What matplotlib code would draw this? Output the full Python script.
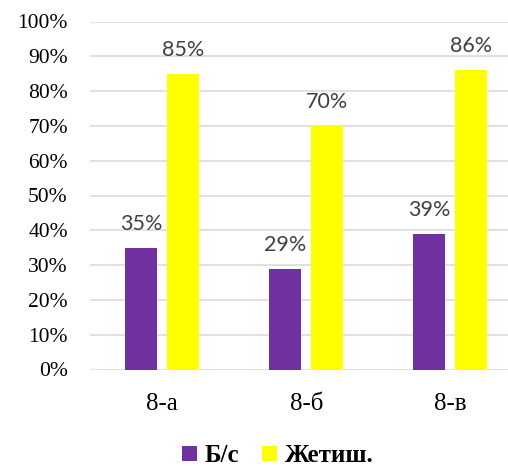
import numpy as np
import matplotlib.pyplot as plt

# chart data
classes = ["8-а", "8-б", "8-в"]
series_names = ["Б/с", "Жетиш."]
bs_values = [35, 29, 39]
zhetish_values = [85, 70, 86]
y_ticks = list(range(0, 101, 10))

colors = ["#7030A0", "#FFFF00"]

fig = plt.figure(figsize=(5.08, 4.68), dpi=100)
ax = fig.add_axes([90 / 508, 1 - 369.5 / 468, 1 - 90 / 508, (369.5 - 21.5) / 468])

x = np.arange(len(classes))
width = 0.222
offset = 0.145

bars = []
for vals, off, col, name in zip([bs_values, zhetish_values], [-offset, offset], colors, series_names):
    rects = ax.bar(x + off, vals, width, color=col, label=name, zorder=3)
    bars.append(rects)
    for r, v in zip(rects, vals):
        ax.annotate(f"{v}%", (r.get_x() + r.get_width() / 2, v),
                    xytext=(0, 10), textcoords="offset points",
                    ha="center", va="bottom", fontsize=15.5,
                    color="#404040", family="Lato")

ax.set_xlim(-0.5, 2.4)
ax.set_ylim(0, 100)
ax.set_yticks(y_ticks)
ax.set_yticklabels([f"{t}%" for t in y_ticks], family="Liberation Serif", fontsize=15.5)
ax.set_xticks(x)
ax.set_xticklabels(classes, family="Liberation Serif", fontsize=18)
ax.tick_params(axis="y", length=0, pad=16)
ax.tick_params(axis="x", length=0, pad=17)
ax.yaxis.grid(True, color="#d9d9d9", linewidth=1.1, zorder=0)
for s in ax.spines.values():
    s.set_visible(False)

fig.legend(handles=bars, labels=series_names, loc="center",
           bbox_to_anchor=(0.547, 0.026), ncol=2, frameon=False,
           handlelength=0.6, handleheight=0.6, handletextpad=0.3,
           columnspacing=0.9,
           prop={"family": "Liberation Serif", "weight": "bold", "size": 18})

fig.savefig("out.png", dpi=100)
